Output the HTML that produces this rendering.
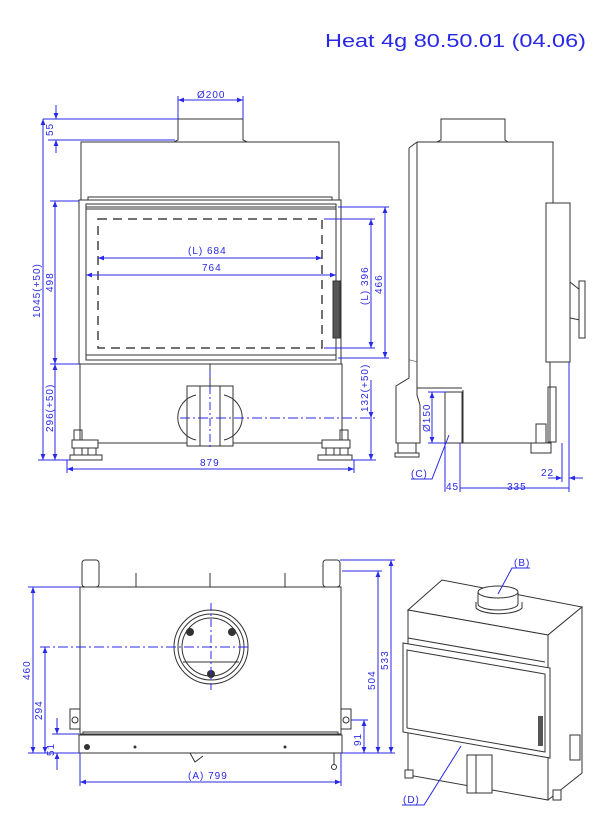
<!DOCTYPE html>
<html><head><meta charset="utf-8"><style>
html,body{margin:0;padding:0;background:#fff}
svg{display:block}
text{font-family:"Liberation Sans",sans-serif;fill:#2828e8}
.d{stroke:#2828e8;stroke-width:1;fill:none}
.k{stroke:#333;stroke-width:1;fill:none}
.kf{stroke:#333;stroke-width:1;fill:#fff}
.t{font-size:10px;letter-spacing:1px}
</style></head><body>
<svg width="609" height="825" viewBox="0 0 609 825" xmlns="http://www.w3.org/2000/svg">
<defs>
<marker id="a" viewBox="0 0 10 10" refX="10" refY="5" markerWidth="8" markerHeight="6" orient="auto-start-reverse" markerUnits="userSpaceOnUse"><path d="M0,1 L10,5 L0,9 z" fill="#2828e8"/></marker>
</defs>
<text x="325" y="47" font-size="18" textLength="261" lengthAdjust="spacingAndGlyphs">Heat 4g 80.50.01 (04.06)</text>

<!-- FRONT VIEW -->
<g>
<path class="kf" d="M178,119 H243 V140 L247,142 H174 L178,140 Z"/>
<rect class="k" x="81" y="142" width="258" height="58"/>
<rect class="k" x="88" y="197" width="244" height="5"/>
<rect class="kf" x="79" y="200" width="262" height="164" stroke-width="1.5"/>
<rect class="k" x="86" y="207" width="250" height="148"/>
<rect class="k" x="86" y="204" width="250" height="5" stroke-width="1.5"/>
<rect x="98" y="219" width="224" height="129" fill="none" stroke="#444" stroke-width="1.5" stroke-dasharray="9,6"/>
<rect x="333" y="281" width="7" height="57" fill="#555" stroke="#333"/>
<rect class="k" x="86" y="355" width="250" height="5"/>
<rect class="k" x="80" y="364" width="262" height="79"/>
<line class="k" x1="210" y1="364" x2="210" y2="386" stroke-width="3"/>
<rect class="kf" x="187" y="386" width="46" height="60"/>
<line class="k" x1="200" y1="386" x2="200" y2="446"/><line class="k" x1="220" y1="386" x2="220" y2="446"/>
<path class="k" d="M196,395 A23,23 0 0,0 196,440 M224,395 A23,23 0 0,1 224,440" stroke-width="2"/>
<g fill="#fff" stroke="#333"><path d="M72,440 h26 v8 h-26z"/><path d="M70,455 h32 v5 h-32z"/><rect x="74" y="448" width="8" height="7"/><rect x="88" y="448" width="8" height="7"/>
<path d="M322,440 h28 v8 h-28z"/><path d="M318,455 h34 v5 h-34z"/><rect x="326" y="448" width="8" height="7"/><rect x="340" y="448" width="8" height="7"/></g>
<path d="M74,440 v-10 h8 v10 M340,440 v-10 h8 v10" class="k"/>
</g>
<!-- front dims -->
<g class="d">
<line x1="178" y1="100" x2="243" y2="100" marker-start="url(#a)" marker-end="url(#a)"/>
<line x1="178" y1="96" x2="178" y2="119"/><line x1="243" y1="96" x2="243" y2="119"/>
<line x1="43" y1="119" x2="178" y2="119"/><line x1="48" y1="140" x2="175" y2="140"/>
<line x1="56" y1="105" x2="56" y2="119" marker-end="url(#a)"/><line x1="56" y1="153" x2="56" y2="140" marker-end="url(#a)"/>
<line x1="43" y1="119" x2="43" y2="460" marker-start="url(#a)" marker-end="url(#a)"/>
<line x1="55" y1="201" x2="55" y2="364" marker-start="url(#a)" marker-end="url(#a)"/>
<line x1="55" y1="364" x2="55" y2="460" marker-start="url(#a)" marker-end="url(#a)"/>
<line x1="50" y1="201" x2="79" y2="201"/><line x1="50" y1="364" x2="79" y2="364"/>
<line x1="38" y1="460" x2="70" y2="460"/>
<line x1="67" y1="469" x2="354" y2="469" marker-start="url(#a)" marker-end="url(#a)"/>
<line x1="67" y1="460" x2="67" y2="473"/><line x1="354" y1="460" x2="354" y2="473"/>
<line x1="86" y1="275" x2="336" y2="275" marker-start="url(#a)" marker-end="url(#a)"/>
<line x1="98" y1="258" x2="322" y2="258" marker-start="url(#a)" marker-end="url(#a)"/>
<line x1="371" y1="219" x2="371" y2="348" marker-start="url(#a)" marker-end="url(#a)"/>
<line x1="385" y1="207" x2="385" y2="358" marker-start="url(#a)" marker-end="url(#a)"/>
<line x1="324" y1="219" x2="375" y2="219"/><line x1="324" y1="348" x2="375" y2="348"/>
<line x1="338" y1="207" x2="389" y2="207"/><line x1="338" y1="358" x2="389" y2="358"/>
<line x1="371" y1="380" x2="371" y2="418" marker-end="url(#a)"/><line x1="371" y1="460" x2="371" y2="418" marker-start="url(#a)"/>
<line x1="180" y1="418" x2="376" y2="418" stroke-dasharray="10,3,2,3"/>
<line x1="210" y1="370" x2="210" y2="450" stroke-dasharray="8,3,2,3"/>
<line x1="352" y1="460" x2="376" y2="460"/>
</g>
<g class="t">
<text x="197" y="98">Ø200</text>
<text x="188" y="254">(L) 684</text>
<text x="202" y="271">764</text>
<text x="200" y="466">879</text>
<text transform="translate(53,136) rotate(-90)">55</text>
<text transform="translate(40,318) rotate(-90)">1045(+50)</text>
<text transform="translate(53,292) rotate(-90)">498</text>
<text transform="translate(53,432) rotate(-90)">296(+50)</text>
<text transform="translate(368,305) rotate(-90)">(L) 396</text>
<text transform="translate(382,294) rotate(-90)">466</text>
<text transform="translate(368,412) rotate(-90)">132(+50)</text>
</g>

<!-- SIDE VIEW -->
<g>
<path class="kf" d="M441,119 H505 V140 L508,142 H437 L441,140 Z"/>
<path class="k" d="M417,142 H553 V200 M409,148 L417,142 M409,148 V360 L417,362 V388 H462 M417,142 V362"/>
<path class="k" d="M553,200 V362 M550,362 V443 H463 V390"/>
<rect class="kf" x="546" y="203" width="24" height="159"/>
<path class="k" d="M570,282 L580,290 M570,318 L580,320"/>
<rect class="kf" x="579" y="281" width="6" height="57"/>
<rect class="kf" x="445" y="392" width="17" height="51"/>
<path class="kf" d="M409,360 V378 L396,386 V443 H420 V405 L417,395 V362"/>
<rect class="kf" x="398" y="443" width="18" height="10"/><rect class="k" x="395" y="453" width="24" height="4"/>
<rect class="kf" x="536" y="424" width="10" height="19"/><rect class="kf" x="531" y="443" width="20" height="10"/>
<rect class="k" x="548" y="387" width="8" height="55"/>
</g>
<g class="d">
<line x1="432" y1="392" x2="432" y2="443" marker-start="url(#a)" marker-end="url(#a)"/>
<line x1="428" y1="392" x2="446" y2="392"/><line x1="428" y1="443" x2="446" y2="443"/>
<line x1="445" y1="443" x2="445" y2="492"/><line x1="460" y1="443" x2="460" y2="492"/>
<line x1="569" y1="362" x2="569" y2="492"/><line x1="562" y1="443" x2="562" y2="482"/>
<line x1="460" y1="488" x2="569" y2="488"/>
<line x1="548" y1="478" x2="562" y2="478" marker-end="url(#a)"/><line x1="583" y1="478" x2="569" y2="478" marker-end="url(#a)"/>
<polyline points="449,435 432,479 411,479"/>
</g>
<g class="t">
<text transform="translate(430,432) rotate(-90)">Ø150</text>
<text x="446" y="490">45</text>
<text x="507" y="490">335</text>
<text x="541" y="476">22</text>
<text x="411" y="477">(C)</text>
</g>

<!-- BOTTOM (TOP) VIEW -->
<g>
<rect class="kf" x="80" y="587" width="261" height="147"/>
<rect class="k" x="83" y="732" width="255" height="3" stroke-width="2"/>
<rect class="k" x="79" y="735" width="263" height="18"/>
<rect class="kf" x="82" y="560" width="17" height="27" rx="3"/>
<rect class="kf" x="323" y="560" width="17" height="27" rx="3"/>
<path class="k" d="M136,573 V587 M210,573 V587 M285,573 V587"/>
<circle class="k" cx="211" cy="647" r="37"/>
<circle class="k" cx="211" cy="647" r="33" stroke-width="2"/>
<circle class="k" cx="211" cy="647" r="29"/>
<line class="k" x1="183" y1="662" x2="239" y2="662"/>
<circle cx="190" cy="632" r="4" fill="#333"/><circle cx="232" cy="632" r="4" fill="#333"/><circle cx="211" cy="674" r="4" fill="#333"/>
<rect class="kf" x="70" y="709" width="10" height="20"/><circle class="k" cx="75" cy="720" r="3"/>
<rect class="kf" x="341" y="709" width="10" height="20"/><circle class="k" cx="346" cy="720" r="3"/>
<circle cx="87" cy="747" r="3" fill="#333"/><circle cx="135" cy="747" r="1.5" fill="#333"/><circle cx="285" cy="747" r="1.5" fill="#333"/>
<path class="k" d="M334,753 V765"/><circle class="k" cx="334" cy="767" r="2.5"/>
<path class="k" d="M190,753 L195,762 L203,756"/>
</g>
<g class="d">
<line x1="33" y1="587" x2="33" y2="753" marker-start="url(#a)" marker-end="url(#a)"/>
<line x1="28" y1="587" x2="80" y2="587"/><line x1="28" y1="753" x2="79" y2="753"/>
<line x1="45" y1="647" x2="45" y2="753" marker-start="url(#a)" marker-end="url(#a)"/>
<line x1="40" y1="647" x2="250" y2="647" stroke-dasharray="10,3,2,3"/>
<line x1="211" y1="603" x2="211" y2="690" stroke-dasharray="8,3,2,3"/>
<line x1="57" y1="718" x2="57" y2="734" marker-end="url(#a)"/><line x1="57" y1="770" x2="57" y2="753" marker-end="url(#a)"/>
<line x1="52" y1="734" x2="79" y2="734"/>
<line x1="378" y1="571" x2="378" y2="753" marker-start="url(#a)" marker-end="url(#a)"/>
<line x1="391" y1="560" x2="391" y2="753" marker-start="url(#a)" marker-end="url(#a)"/>
<line x1="340" y1="560" x2="395" y2="560"/><line x1="342" y1="571" x2="382" y2="571"/>
<line x1="342" y1="753" x2="395" y2="753"/>
<line x1="364" y1="720" x2="364" y2="753" marker-start="url(#a)" marker-end="url(#a)"/>
<line x1="351" y1="720" x2="368" y2="720"/>
<line x1="80" y1="753" x2="80" y2="786"/><line x1="341" y1="753" x2="341" y2="786"/>
<line x1="80" y1="782" x2="341" y2="782" marker-start="url(#a)" marker-end="url(#a)"/>
</g>
<g class="t">
<text transform="translate(30,680) rotate(-90)">460</text>
<text transform="translate(42,720) rotate(-90)">294</text>
<text transform="translate(54,756) rotate(-90)">51</text>
<text transform="translate(375,690) rotate(-90)">504</text>
<text transform="translate(388,670) rotate(-90)">533</text>
<text transform="translate(361,746) rotate(-90)">91</text>
<text x="188" y="779">(A) 799</text>
</g>

<!-- ISO VIEW -->
<g>
<path class="kf" d="M408,610 L442,580 L582,607 L548,635 Z"/>
<path class="kf" d="M548,635 L582,607 V773 L548,800 Z"/>
<path class="kf" d="M408,610 L548,635 V800 L408,775 Z"/>
<path class="kf" d="M403,643 L550,668 V758 L403,732 Z" stroke-width="1.5"/>
<path class="k" d="M407,650 L545,674 V752 L407,728 Z"/>
<path class="k" d="M408,638 L545,662"/>
<rect x="538" y="716" width="5" height="30" fill="#555"/>
<path class="kf" d="M476,602 V608 A24,8 0 0,0 522,608 V602"/>
<path class="kf" d="M478,592 V604 A20,6 0 0,0 518,604 V592"/>
<ellipse class="kf" cx="498" cy="592" rx="20" ry="6"/>
<rect class="kf" x="467" y="755" width="25" height="38"/>
<line class="k" x1="476" y1="755" x2="476" y2="793"/>
<rect class="kf" x="570" y="735" width="10" height="25"/>
<rect class="kf" x="405" y="770" width="8" height="8"/>
<rect class="kf" x="553" y="790" width="8" height="10"/>
</g>
<g class="d">
<polyline points="498,594 512,568 530,568"/>
<polyline points="461,746 424,805 402,805"/>
</g>
<g class="t" font-size="9">
<text x="514" y="566">(B)</text>
<text x="403" y="803">(D)</text>
</g>
</svg>
</body></html>
